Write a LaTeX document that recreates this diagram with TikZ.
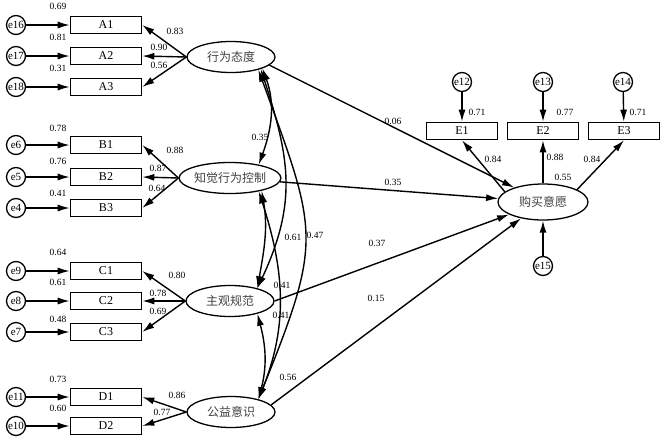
\documentclass[tikz,border=0pt]{standalone}
\usepackage{fontspec}
\setmainfont{Liberation Serif}
\newfontfamily\cjk{Noto Sans CJK SC}
\usetikzlibrary{positioning, shapes.geometric, arrows.meta}

\begin{document}
\begin{tikzpicture}[x=1pt, y=-1pt,
		obs/.style={draw, line width=1.6pt, minimum width=71pt, minimum height=17pt, inner sep=0pt, font=\fontsize{12}{14}\selectfont},
		lat/.style={ellipse, draw, line width=1.3pt, minimum width=88pt, minimum height=31pt, inner sep=0pt, text=black!75, font=\cjk\fontsize{12}{14}\selectfont},
		err/.style={circle, draw, line width=1.3pt, minimum size=19pt, inner sep=0pt, font=\fontsize{11}{12}\selectfont},
		num/.style={inner sep=0pt, font=\fontsize{9.5}{11}\selectfont},
		arr/.style={-{Latex[length=12pt, width=7pt]}, line width=1.4pt},
		cov/.style={{Latex[length=12pt, width=7pt]}-{Latex[length=12pt, width=7pt]}, line width=1.4pt}]
				\useasboundingbox (0,0) rectangle (661,440);

				\node[lat] (att) at (231,57) {行为态度};
				\node[lat] (pbc) at (230,178) {知觉行为控制};
				\node[lat] (sn) at (230,301) {主观规范};
				\node[lat] (pwa) at (231,412) {公益意识};
				\node[lat, minimum width=90pt, minimum height=36pt] (pi) at (543,202) {购买意愿};

				\node[obs] (A1) at (106,25) {A1};
				\node[obs] (A2) at (106,56) {A2};
				\node[obs] (A3) at (106,87) {A3};
				\node[obs] (B1) at (106,145) {B1};
				\node[obs] (B2) at (106,177) {B2};
				\node[obs] (B3) at (106,208) {B3};
				\node[obs] (C1) at (106,271) {C1};
				\node[obs] (C2) at (106,301) {C2};
				\node[obs] (C3) at (106,332) {C3};
				\node[obs] (D1) at (106,397) {D1};
				\node[obs] (D2) at (106,426) {D2};
				\node[obs] (E1) at (462,131) {E1};
				\node[obs] (E2) at (543,131) {E2};
				\node[obs] (E3) at (624,131) {E3};

				\node[err] (e16) at (16,25) {e16};
				\node[err] (e17) at (16,56) {e17};
				\node[err] (e18) at (16,87) {e18};
				\node[err] (e6) at (16,145) {e6};
				\node[err] (e5) at (16,177) {e5};
				\node[err] (e4) at (16,208) {e4};
				\node[err] (e9) at (16,271) {e9};
				\node[err] (e8) at (16,301) {e8};
				\node[err] (e7) at (16,332) {e7};
				\node[err] (e11) at (16,397) {e11};
				\node[err] (e10) at (16,426) {e10};
				\node[err] (e12) at (462,82) {e12};
				\node[err] (e13) at (543,82) {e13};
				\node[err] (e14) at (623,82) {e14};
				\node[err] (e15) at (543,266) {e15};

				\draw[arr] (e16) -- (A1);
				\draw[arr] (e17) -- (A2);
				\draw[arr] (e18) -- (A3);
				\draw[arr] (e6) -- (B1);
				\draw[arr] (e5) -- (B2);
				\draw[arr] (e4) -- (B3);
				\draw[arr] (e9) -- (C1);
				\draw[arr] (e8) -- (C2);
				\draw[arr] (e7) -- (C3);
				\draw[arr] (e11) -- (D1);
				\draw[arr] (e10) -- (D2);
				\draw[arr] (e12) -- (E1);
				\draw[arr] (e13) -- (E2);
				\draw[arr] (e14) -- (E3);
				\draw[arr] (e15) -- (pi);

				\draw[arr] (att.west) -- (A1.east);
				\draw[arr] (att.west) -- (A2.east);
				\draw[arr] (att.west) -- (A3.east);
				\draw[arr] (pbc.west) -- (B1.east);
				\draw[arr] (pbc.west) -- (B2.east);
				\draw[arr] (pbc.west) -- (B3.east);
				\draw[arr] (sn.west) -- (C1.east);
				\draw[arr] (sn.west) -- (C2.east);
				\draw[arr] (sn.west) -- (C3.east);
				\draw[arr] (pwa.west) -- (D1.east);
				\draw[arr] (pwa.west) -- (D2.east);
				\draw[arr] (pi.165) -- (E1.south);
				\draw[arr] (pi.north) -- (E2.south);
				\draw[arr] (pi.20) -- (E3.south);

				\draw[arr] (att.-12) -- (pi);
				\draw[arr] (pbc) -- (pi);
				\draw[arr] (sn.east) -- (pi);
				\draw[arr] (pwa.10) -- (pi);

				\draw[cov] (att.-20) to[out=-70, in=70] (pbc.25);
				\draw[cov] (att.-22) to[out=-72, in=65, looseness=1.1] (sn.25);
				\draw[cov] (att.-25) to[out=-70, in=68, looseness=1.35] (pwa.25);
				\draw[cov] (pbc.-22) to[out=-80, in=80] (sn.25);
				\draw[cov] (pbc.-25) to[out=-72, in=68] (pwa.25);
				\draw[cov] (sn.-25) to[out=-75, in=75] (pwa.25);

				\node[num] (vA1) at (58,6) {0.69};
				\node[num] (vA2) at (58,37) {0.81};
				\node[num] (vA3) at (58,68) {0.31};
				\node[num] (vB1) at (58,128) {0.78};
				\node[num] (vB2) at (58,161) {0.76};
				\node[num] (vB3) at (58,193) {0.41};
				\node[num] (vC1) at (58,252) {0.64};
				\node[num] (vC2) at (58,282) {0.61};
				\node[num] (vC3) at (58,319) {0.48};
				\node[num] (vD1) at (58,379) {0.73};
				\node[num] (vD2) at (58,408) {0.60};

				\node[num] (wA1) at (175,31) {0.83};
				\node[num] (wA2) at (159,47) {0.90};
				\node[num] (wA3) at (159,65) {0.56};
				\node[num] (wB1) at (175,150) {0.88};
				\node[num] (wB2) at (158,168) {0.87};
				\node[num] (wB3) at (157,188) {0.64};
				\node[num] (wC1) at (177,275) {0.80};
				\node[num] (wC2) at (158,293) {0.78};
				\node[num] (wC3) at (158,311) {0.69};
				\node[num] (wD1) at (177,395) {0.86};
				\node[num] (wD2) at (162,412) {0.77};

				\node[num] (cAB) at (260,137) {0.35};
				\node[num] (cAC) at (293,237) {0.61};
				\node[num] (cAD) at (315,235) {0.47};
				\node[num] (cBC) at (282,285) {0.41};
				\node[num] (cCD) at (281,315) {0.41};
				\node[num] (cBD) at (288,377) {0.56};

				\node[num] (sA) at (393,121) {0.06};
				\node[num] (sB) at (393,182) {0.35};
				\node[num] (sC) at (377,243) {0.37};
				\node[num] (sD) at (376,298) {0.15};

				\node[num] (vE1) at (477,112) {0.71};
				\node[num] (vE2) at (565,112) {0.77};
				\node[num] (vE3) at (638,112) {0.71};
				\node[num] (wE1) at (493,159) {0.84};
				\node[num] (wE2) at (555,157) {0.88};
				\node[num] (wE3) at (592,159) {0.84};
				\node[num] (vPI) at (563,177) {0.55};
			\end{tikzpicture}
\end{document}
